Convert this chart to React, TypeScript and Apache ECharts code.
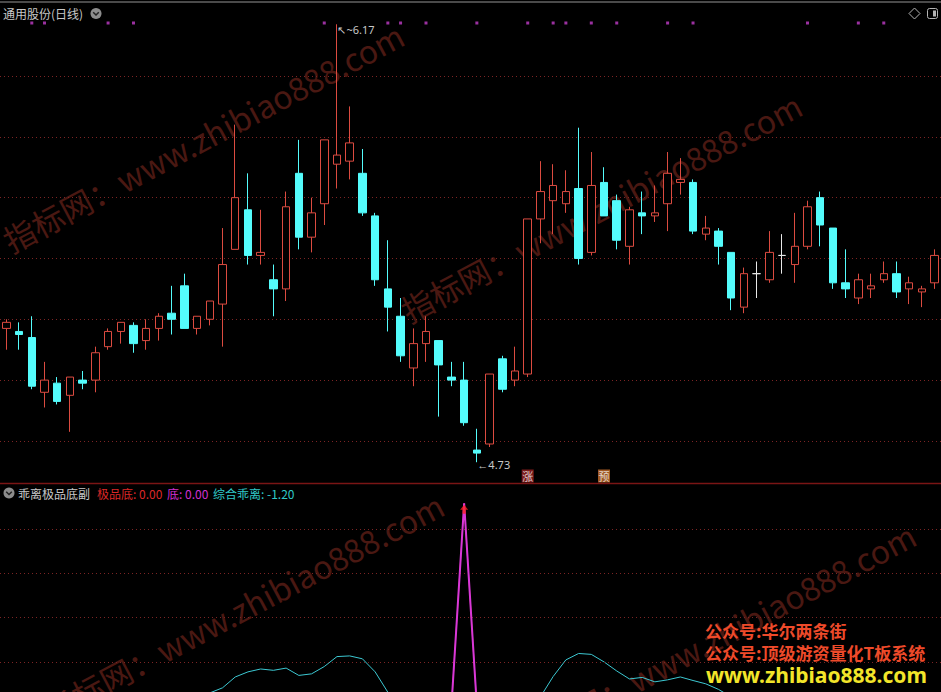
import React, { useEffect, useRef } from "react";
import * as echarts from "echarts";

// ---- data ----
const stockTitle = "通用股份(日线)";
const indicatorTitle = "乖离极品底副";

const opens = [
  5.17, 5.16, 5.14, 4.96, 4.99, 4.95, 5.0, 5.0, 5.11, 5.16,
  5.18, 5.13, 5.17, 5.22, 5.31, 5.17, 5.2, 5.25, 5.43, 5.56,
  5.41, 5.33, 5.3, 5.68, 5.47, 5.58, 5.71, 5.72, 5.68, 5.54,
  5.3, 5.21, 5.04, 5.12, 5.13, 5.01, 5.0, 4.77, 4.79, 5.07,
  5.0, 5.02, 5.53, 5.59, 5.58, 5.63, 5.42, 5.65, 5.59, 5.44,
  5.55, 5.54, 5.58, 5.65, 5.65, 5.48, 5.49, 5.42, 5.24, 5.35,
  5.33, 5.41, 5.38, 5.44, 5.6, 5.5, 5.32, 5.27, 5.3, 5.33,
  5.35, 5.3, 5.29, 5.32,
];
const closes = [
  5.19, 5.15, 4.98, 5.0, 4.93, 5.01, 4.99, 5.09, 5.16, 5.19,
  5.12, 5.17, 5.21, 5.2, 5.17, 5.21, 5.26, 5.38, 5.6, 5.41,
  5.42, 5.3, 5.57, 5.47, 5.55, 5.79, 5.74, 5.78, 5.55, 5.33,
  5.24, 5.08, 5.12, 5.16, 5.05, 5.0, 4.86, 4.76, 5.02, 4.97,
  5.03, 5.53, 5.62, 5.64, 5.62, 5.4, 5.64, 5.54, 5.46, 5.56,
  5.54, 5.55, 5.68, 5.66, 5.49, 5.5, 5.44, 5.27, 5.35, 5.35,
  5.42, 5.41, 5.44, 5.57, 5.51, 5.32, 5.3, 5.33, 5.31, 5.35,
  5.29, 5.32, 5.3, 5.41,
];
const highs = [
  5.2, 5.19, 5.21, 5.06, 5.01, 5.01, 5.03, 5.11, 5.17, 5.19,
  5.19, 5.2, 5.22, 5.31, 5.35, 5.21, 5.26, 5.5, 5.84, 5.68,
  5.56, 5.38, 5.62, 5.79, 5.6, 5.79, 6.17, 5.9, 5.76, 5.55,
  5.46, 5.27, 5.17, 5.21, 5.13, 5.06, 5.06, 4.84, 5.02, 5.08,
  5.11, 5.53, 5.72, 5.71, 5.69, 5.83, 5.75, 5.7, 5.61, 5.57,
  5.62, 5.64, 5.75, 5.73, 5.66, 5.54, 5.5, 5.42, 5.37, 5.39,
  5.49, 5.48, 5.55, 5.59, 5.62, 5.5, 5.43, 5.35, 5.35, 5.39,
  5.39, 5.34, 5.31, 5.43,
];
const lows = [
  5.1, 5.1, 4.97, 4.91, 4.92, 4.83, 4.97, 4.96, 5.1, 5.12,
  5.09, 5.1, 5.13, 5.15, 5.17, 5.15, 5.18, 5.11, 5.43, 5.38,
  5.38, 5.21, 5.26, 5.43, 5.42, 5.51, 5.63, 5.66, 5.54, 5.31,
  5.16, 5.06, 4.98, 5.06, 4.88, 4.98, 4.85, 4.73, 4.78, 4.96,
  4.98, 5.01, 5.45, 5.48, 5.55, 5.38, 5.41, 5.54, 5.43, 5.38,
  5.48, 5.52, 5.49, 5.61, 5.48, 5.46, 5.38, 5.23, 5.22, 5.27,
  5.32, 5.35, 5.32, 5.43, 5.44, 5.3, 5.27, 5.25, 5.27, 5.32,
  5.27, 5.25, 5.24, 5.3,
];

// top signal dots (bar indices)
const signalDots = [2, 3, 8, 10, 25, 30, 31, 33, 37, 41, 43, 44, 46, 48, 52, 54, 63, 67, 69];
// bottom markers
const markerIdx = [41, 47];
const markerText = ["涨", "预"];

// sub indicator
const zongheGuaili = [
  3, 1, -2, -5, -7, -8, -7, -5, -3, -1,
  0, 1, 2, 3, 4, 5, 6.0, 8.3, 13.2, 15.5,
  16.8, 16.2, 17.2, 13.9, 14.6, 17.9, 22.4, 22.7, 21.4, 15.5,
  6.3, 1, -4, -7, -9, -11, -13, -15, -12, -8,
  -3, 2, 4.2, 13.4, 20.9, 23.8, 23.4, 20.0, 15.9, 12.3,
  13.0, 11.0, 11.9, 13.2, 11.6, 10.1, 7.6, 4.2, 2, 0.5,
  -0.5, -1, -1.5, -1, 0, 1, 0.5, -0.5, -1, -1.5,
  -2, -1.8, -1.5, -1.2,
];
const diLine = [
  0, 0, 0, 0, 0, 0, 0, 0, 0, 0,
  0, 0, 0, 0, 0, 0, 0, 0, 0, 0,
  0, 0, 0, 0, 0, 0, 0, 0, 0, 0,
  0, 0, 0, 0, 0, 0, 91.6, 0, 0, 0,
  0, 0, 0, 0, 0, 0, 0, 0, 0, 0,
  0, 0, 0, 0, 0, 0, 0, 0, 0, 0,
  0, 0, 0, 0, 0, 0, 0, 0, 0, 0,
  0, 0, 0, 0,
];
const jipinDi = [
  0, 0, 0, 0, 0, 0, 0, 0, 0, 0,
  0, 0, 0, 0, 0, 0, 0, 0, 0, 0,
  0, 0, 0, 0, 0, 0, 0, 0, 0, 0,
  0, 0, 0, 0, 0, 0, 91.6, 0, 0, 0,
  0, 0, 0, 0, 0, 0, 0, 0, 0, 0,
  0, 0, 0, 0, 0, 0, 0, 0, 0, 0,
  0, 0, 0, 0, 0, 0, 0, 0, 0, 0,
  0, 0, 0, 0,
];

const priceGridLines = [4.8, 5.0, 5.2, 5.4, 5.6, 5.8, 6.0];
const subGridLines = [20, 40, 60, 80];

// ---- styles ----
const RED = "#dc4b40";
const CYAN = "#54fcfc";
const MAGENTA = "#d838d8";
const GRID_RED = "#7c2424";
const markerColors: Record<string, string> = { 涨: "#9a2222", 预: "#c86e2c" };
const CJK = '"Noto Sans CJK SC", "Noto Sans", sans-serif';
const WM = "#4a1812";

export default function App() {
  const ref = useRef<HTMLDivElement>(null);

  useEffect(() => {
    document.body.style.margin = "0";
    document.body.style.background = "#000";
    if (!ref.current) return;
    const chart = echarts.init(ref.current, undefined, { renderer: "svg" });

    const days = opens.map((_, i) => String(i + 1));
    const kData = opens.map((o, i) => [o, closes[i], lows[i], highs[i]]);

    let hiIdx = 0;
    let loIdx = 0;
    highs.forEach((h, i) => {
      if (h > highs[hiIdx]) hiIdx = i;
    });
    lows.forEach((l, i) => {
      if (l < lows[loIdx]) loIdx = i;
    });

    const X = { left: -0.36, width: 942 };
    const last = (a: number[]) => a[a.length - 1];

    const wmText = "指标网：www.zhibiao888.com";
    const wmFont = `normal 32px ${CJK}`;
    const rot = (28 * Math.PI) / 180;
    const watermark = (x: number, y: number) => ({
      type: "text",
      x,
      y,
      rotation: rot,
      silent: true,
      z: 0,
      style: {
        text: wmText,
        font: wmFont,
        fill: WM,
        textAlign: "left",
        textVerticalAlign: "middle",
        align: "left",
        verticalAlign: "middle",
      },
    });
    const txt = (text: string, x: number, y: number, fill: string, font: string, z = 10) => ({
      type: "text",
      x,
      y,
      z,
      silent: true,
      style: {
        text,
        font,
        fill,
        textAlign: "left",
        textVerticalAlign: "middle",
        align: "left",
        verticalAlign: "middle",
      },
    });

    const option: any = {
      animation: false,
      backgroundColor: "#000",
      grid: [
        { ...X, top: 10, height: 472 },
        { ...X, top: 484.7, height: 207.3 },
        { ...X, top: 13, height: 20 },
        { ...X, top: 466, height: 20 },
      ],
      xAxis: [0, 1, 2, 3].map((g) => ({
        type: "category",
        gridIndex: g,
        data: days,
        boundaryGap: true,
        show: false,
      })),
      yAxis: [
        { type: "value", gridIndex: 0, min: 4.665, max: 6.217, show: false },
        { type: "value", gridIndex: 1, min: 6.41, max: 100, show: false },
        { type: "value", gridIndex: 2, min: 0, max: 2, show: false },
        { type: "value", gridIndex: 3, min: 0, max: 2, show: false },
      ],
      graphic: [
        // watermarks
        watermark(5, 242),
        watermark(403, 312),
        watermark(45, 712),
        watermark(517, 742),
        // top bar
        { type: "line", silent: true, shape: { x1: 0, y1: 2, x2: 941, y2: 2 }, style: { stroke: "#4a4a4a", lineWidth: 2 } },
        txt(stockTitle, 3, 13.5, "#c8c8c8", `12px ${CJK}`),
        { type: "circle", silent: true, shape: { cx: 96, cy: 13.5, r: 5.5 }, style: { fill: "#8c8c8c" } },
        { type: "polyline", silent: true, shape: { points: [[93.2, 12.2], [96, 15], [98.8, 12.2]] }, style: { stroke: "#222", lineWidth: 1.5, fill: null } },
        { type: "polygon", silent: true, shape: { points: [[914.5, 8], [920, 13.5], [914.5, 19], [909, 13.5]] }, style: { stroke: "#b4b4b4", fill: null, lineWidth: 1 } },
        { type: "rect", silent: true, shape: { x: 927.5, y: 8.5, width: 10, height: 10, r: 2 }, style: { stroke: "#b4b4b4", fill: null, lineWidth: 1 } },
        { type: "rect", silent: true, shape: { x: 933, y: 10.5, width: 3, height: 6 }, style: { fill: "#b4b4b4" } },
        // separator
        { type: "line", silent: true, z: 20, shape: { x1: 0, y1: 483.5, x2: 941, y2: 483.5 }, style: { stroke: "#7a1515", lineWidth: 1.5 } },
        // sub title
        { type: "circle", silent: true, shape: { cx: 9, cy: 493, r: 5.5 }, style: { fill: "#8c8c8c" } },
        { type: "polyline", silent: true, shape: { points: [[6.2, 491.7], [9, 494.5], [11.8, 491.7]] }, style: { stroke: "#222", lineWidth: 1.5, fill: null } },
        txt(indicatorTitle, 18, 493, "#c8c8c8", `12px ${CJK}`),
        txt(`极品底: ${last(jipinDi).toFixed(2)}`, 97, 493, "#dc2828", `12px ${CJK}`),
        txt(`底: ${last(diLine).toFixed(2)}`, 167, 493, "#d030d0", `12px ${CJK}`),
        txt(`综合乖离: ${last(zongheGuaili).toFixed(2)}`, 213, 493, "#30c8c8", `12px ${CJK}`),
        // promo
        txt("公众号:华尔两条街", 705, 630.5, "#ee4a2a", `bold 17px ${CJK}`, 100),
        txt("公众号:顶级游资量化T板系统", 705, 652.5, "#ee4a2a", `bold 17px ${CJK}`, 100),
        txt("www.zhibiao888.com", 706, 675, "#f2e52a", `bold 21px "Noto Sans", sans-serif`, 100),
      ],
      series: [
        {
          name: "K",
          type: "candlestick",
          xAxisIndex: 0,
          yAxisIndex: 0,
          data: kData,
          barWidth: 8,
          z: 5,
          itemStyle: {
            color: "#000",
            color0: CYAN,
            borderColor: RED,
            borderColor0: CYAN,
            borderColorDoji: "#e8e8e8",
            borderWidth: 1,
          },
          markLine: {
            silent: true,
            symbol: ["none", "none"],
            label: { show: false },
            lineStyle: { color: GRID_RED, type: [1, 3], width: 1 },
            z: 1,
            data: priceGridLines.map((v) => ({ yAxis: v })),
          },
          markPoint: {
            silent: true,
            symbol: "circle",
            symbolSize: 1,
            itemStyle: { color: "rgba(0,0,0,0)" },
            label: {
              show: true,
              position: "right",
              distance: 0,
              color: "#c8c8c8",
              fontSize: 11,
              fontFamily: "Noto Sans, sans-serif",
            },
            data: [
              {
                coord: [hiIdx, highs[hiIdx]],
                value: highs[hiIdx],
                label: { formatter: `↖~${highs[hiIdx].toFixed(2)}`, offset: [0, 5] },
              },
              {
                coord: [loIdx, lows[loIdx]],
                value: lows[loIdx],
                label: { formatter: `←${lows[loIdx].toFixed(2)}`, offset: [0, 2] },
              },
            ],
          },
        },
        {
          name: "信号",
          type: "scatter",
          xAxisIndex: 2,
          yAxisIndex: 2,
          symbol: "rect",
          symbolSize: 3,
          itemStyle: { color: "#c03cc8" },
          data: signalDots.map((i) => [i, 1]),
        },
        {
          name: "标记",
          type: "scatter",
          xAxisIndex: 3,
          yAxisIndex: 3,
          symbol: "rect",
          symbolSize: [12, 13],
          z: 6,
          data: markerIdx.map((i, k) => ({
            value: [i, 1],
            itemStyle: { color: markerColors[markerText[k]] },
            label: {
              show: true,
              position: "inside",
              formatter: markerText[k],
              color: "#f4f4f4",
              fontSize: 11,
              fontFamily: CJK,
            },
          })),
        },
        {
          name: "综合乖离",
          type: "line",
          xAxisIndex: 1,
          yAxisIndex: 1,
          data: zongheGuaili,
          symbol: "none",
          lineStyle: { color: "#3cc8d2", width: 1 },
          z: 4,
          markLine: {
            silent: true,
            symbol: ["none", "none"],
            label: { show: false },
            lineStyle: { color: GRID_RED, type: [1, 3], width: 1 },
            data: subGridLines.map((v) => ({ yAxis: v })),
          },
        },
        {
          name: "极品底",
          type: "line",
          xAxisIndex: 1,
          yAxisIndex: 1,
          data: jipinDi,
          symbol: "none",
          lineStyle: { color: "#e02020", width: 1 },
          z: 5,
        },
        {
          name: "底",
          type: "line",
          xAxisIndex: 1,
          yAxisIndex: 1,
          data: diLine,
          symbol: "none",
          lineStyle: { color: MAGENTA, width: 2 },
          z: 6,
        },
        {
          name: "极品底信号",
          type: "scatter",
          xAxisIndex: 1,
          yAxisIndex: 1,
          z: 8,
          symbol: "path://M5,0 L10,6 L7,6 L7,11 L3,11 L3,6 L0,6 Z",
          symbolSize: [8, 9],
          symbolOffset: [0, 6],
          itemStyle: { color: "#ff2020" },
          data: jipinDi.map((v, i) => [i, v]).filter((p) => p[1] > 0),
        },
      ],
    };

    chart.setOption(option);
    return () => chart.dispose();
  }, []);

  return <div ref={ref} style={{ width: 941, height: 692, background: "#000" }} />;
}
